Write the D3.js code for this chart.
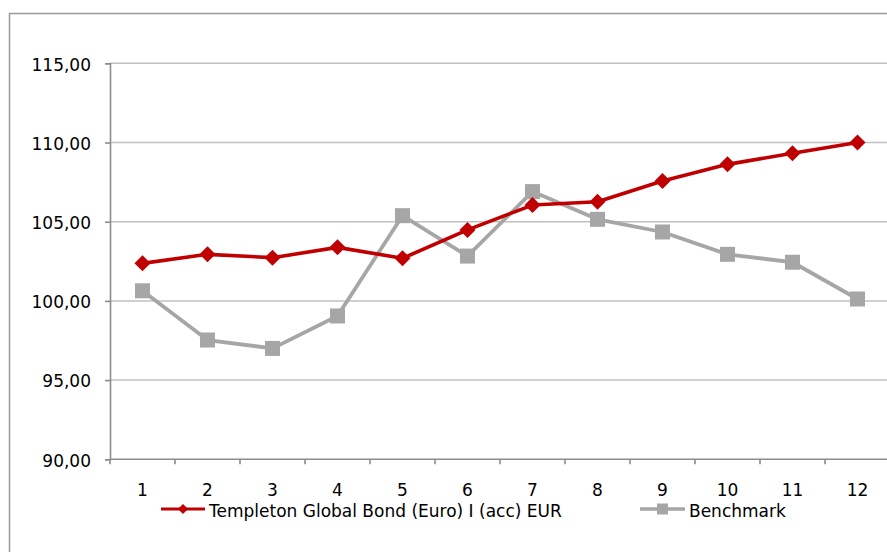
<!DOCTYPE html>
<html>
<head>
<meta charset="utf-8">
<script src="https://cdn.jsdelivr.net/npm/d3@7"></script>
<style>
  html, body { margin: 0; padding: 0; background: #fff; }
  svg { display: block; font-family: "DejaVu Sans", sans-serif; }
</style>
</head>
<body>
<svg id="chart" width="887" height="552"></svg>
<script>
const categories = ["1","2","3","4","5","6","7","8","9","10","11","12"];
const fundValues = [102.37, 102.94, 102.73, 103.38, 102.69, 104.48, 106.05, 106.26, 107.57, 108.62, 109.32, 110.0];
const benchValues = [100.64, 97.53, 97.0, 99.05, 105.38, 102.83, 106.9, 105.15, 104.35, 102.94, 102.44, 100.12];
const yTicks = [90, 95, 100, 105, 110, 115];
const seriesNames = ["Templeton Global Bond (Euro) I (acc) EUR", "Benchmark"];

const svg = d3.select("#chart");
const plotLeft = 110, plotRight = 890, plotTop = 63.3, plotBottom = 459.3;

// outer chart border
svg.append("path")
  .attr("d", "M9.5,560 L9.5,13.5 L900,13.5")
  .attr("fill", "none").attr("stroke", "#9a9a9a").attr("stroke-width", 1.5);

const x = d3.scaleBand().domain(categories).range([plotLeft, plotRight]);
const y = d3.scaleLinear().domain([90, 115]).range([plotBottom, plotTop]);
const fmt = v => d3.format(".2f")(v).replace(".", ",");

// gridlines
svg.append("g").selectAll("line").data(yTicks.filter(t => t !== 90)).join("line")
  .attr("x1", plotLeft).attr("x2", plotRight)
  .attr("y1", d => y(d)).attr("y2", d => y(d))
  .attr("stroke", "#c0c0c0").attr("stroke-width", 1.5);

// y axis
const yAxis = svg.append("g").attr("transform", `translate(${plotLeft},0)`)
  .call(d3.axisLeft(y).tickValues(yTicks).tickFormat(fmt).tickSize(5).tickPadding(14));
yAxis.select(".domain").attr("stroke", "#8c8c8c").attr("stroke-width", 1.6);
yAxis.selectAll(".tick line").attr("stroke", "#8c8c8c").attr("stroke-width", 1.6);
yAxis.selectAll(".tick text").attr("font-size", 17).attr("fill", "#000")
  .attr("font-family", "DejaVu Sans, sans-serif").attr("dy", "0.4em");

// x axis: line + ticks at band boundaries
const xg = svg.append("g");
xg.append("line").attr("x1", plotLeft).attr("x2", plotRight).attr("y1", plotBottom).attr("y2", plotBottom)
  .attr("stroke", "#8c8c8c").attr("stroke-width", 1.6);
const bounds = categories.map(c => x(c)).concat([x(categories[categories.length-1]) + x.bandwidth()]);
xg.selectAll("line.tk").data(bounds).join("line").attr("class", "tk")
  .attr("x1", d => d).attr("x2", d => d).attr("y1", plotBottom).attr("y2", plotBottom + 5)
  .attr("stroke", "#8c8c8c").attr("stroke-width", 1.6);
xg.selectAll("text").data(categories).join("text")
  .attr("x", d => x(d) + x.bandwidth() / 2).attr("y", plotBottom + 37)
  .attr("text-anchor", "middle").attr("font-size", 17).attr("fill", "#000")
  .text(d => d);

const cx = (d, i) => x(categories[i]) + x.bandwidth() / 2;
const line = d3.line().x((d, i) => cx(d, i)).y(d => y(d));

// benchmark series
svg.append("path").datum(benchValues).attr("d", line)
  .attr("fill", "none").attr("stroke", "#a6a6a6").attr("stroke-width", 3.8).attr("stroke-linejoin", "round");
svg.append("g").selectAll("rect").data(benchValues).join("rect")
  .attr("x", (d, i) => cx(d, i) - 7.5).attr("y", d => y(d) - 7.5)
  .attr("width", 15).attr("height", 15).attr("fill", "#a6a6a6");

// fund series
svg.append("path").datum(fundValues).attr("d", line)
  .attr("fill", "none").attr("stroke", "#c00000").attr("stroke-width", 3.6).attr("stroke-linejoin", "round");
const diamond = s => `M0,${-s} L${s},0 L0,${s} L${-s},0 Z`;
svg.append("g").selectAll("path").data(fundValues).join("path")
  .attr("transform", (d, i) => `translate(${cx(d, i)},${y(d)})`)
  .attr("d", diamond(8)).attr("fill", "#c00000");

// legend
const legY = 509;
const lg = svg.append("g");
lg.append("line").attr("x1", 161).attr("x2", 205).attr("y1", legY).attr("y2", legY)
  .attr("stroke", "#c00000").attr("stroke-width", 3);
lg.append("path").attr("transform", `translate(183,${legY})`).attr("d", diamond(5)).attr("fill", "#c00000");
lg.append("text").attr("x", 209).attr("y", legY + 8).attr("font-size", 17).attr("fill", "#000").text(seriesNames[0]);
lg.append("line").attr("x1", 640).attr("x2", 685).attr("y1", legY).attr("y2", legY)
  .attr("stroke", "#a6a6a6").attr("stroke-width", 3.5);
lg.append("rect").attr("x", 657).attr("y", legY - 5.5).attr("width", 11).attr("height", 11).attr("fill", "#a6a6a6");
lg.append("text").attr("x", 689).attr("y", legY + 8).attr("font-size", 17).attr("fill", "#000").text(seriesNames[1]);
</script>
</body>
</html>
